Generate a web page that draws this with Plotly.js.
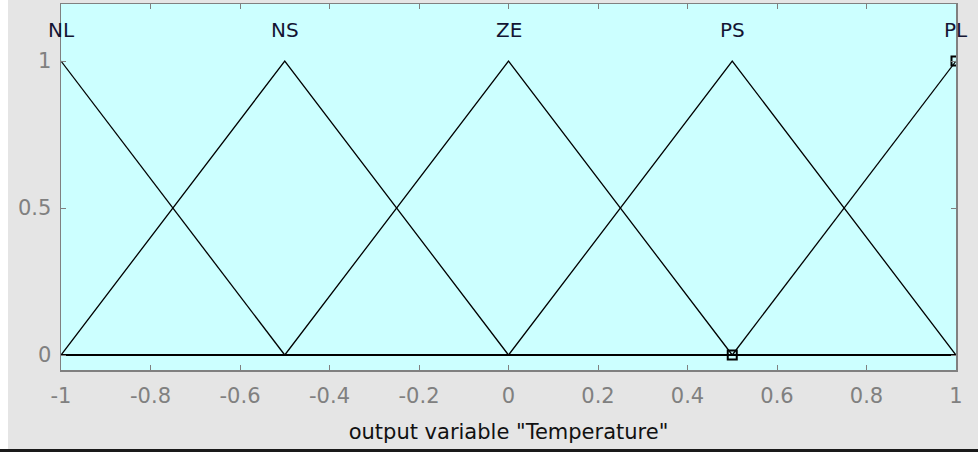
<!DOCTYPE html>
<html>
<head>
<meta charset="utf-8">
<script src="https://cdn.plot.ly/plotly-3.0.1.min.js"></script>
<style>
html,body{margin:0;padding:0;background:#ffffff;width:978px;height:452px;overflow:hidden;}
#chart{position:absolute;left:8px;top:0;width:970px;height:449px;}
#bar{position:absolute;left:0;top:449px;width:978px;height:3px;background:#1a1a1a;}
</style>
</head>
<body>
<div id="chart"></div>
<div id="bar"></div>
<script>
// Membership functions of output variable "Temperature"
const mfNames = ['NL', 'NS', 'ZE', 'PS', 'PL'];
const mfPeaks = [-1, -0.5, 0, 0.5, 1];
const mfX = [[-1, -0.5], [-1, -0.5, 0], [-0.5, 0, 0.5], [0, 0.5, 1], [0.5, 1]];
const mfY = [[1, 0], [0, 1, 0], [0, 1, 0], [0, 1, 0], [0, 1]];
const baseX = [-1, 1];
const baseY = [0, 0];
const selX = [0.5, 1];
const selY = [0, 1];
const xTickVals = [-1, -0.8, -0.6, -0.4, -0.2, 0, 0.2, 0.4, 0.6, 0.8, 1];
const xTickText = ['-1', '-0.8', '-0.6', '-0.4', '-0.2', '0', '0.2', '0.4', '0.6', '0.8', '1'];
const yTickVals = [0, 0.5, 1];
const yTickText = ['0', '0.5', '1'];
const xTitle = 'output variable "Temperature"';

const traces = [];
traces.push({x: baseX, y: baseY, mode: 'lines', line: {color: '#000000', width: 2.2}, hoverinfo: 'skip'});
for (let i = 0; i < mfNames.length; i++) {
  traces.push({x: mfX[i], y: mfY[i], mode: 'lines', name: mfNames[i], line: {color: '#000000', width: 1.3}});
}
traces.push({x: selX, y: selY, mode: 'markers', marker: {symbol: 'square-open', size: 9, color: '#000000', line: {width: 2, color: '#000000'}}});

const annotations = mfNames.map((n, i) => ({
  x: mfPeaks[i], y: 1.105, xref: 'x', yref: 'y', text: n, showarrow: false,
  font: {family: 'DejaVu Sans, sans-serif', size: 20, color: '#141433'}, xanchor: 'center', yanchor: 'middle'
}));

const layout = {
  width: 970, height: 449,
  margin: {l: 53, r: 22, t: 4, b: 79, pad: 0},
  paper_bgcolor: '#e5e5e5',
  plot_bgcolor: '#ccffff',
  showlegend: false,
  font: {family: 'DejaVu Sans, sans-serif', size: 21, color: '#808080'},
  xaxis: {
    range: [-1, 1], tickvals: xTickVals, ticktext: xTickText,
    ticks: 'inside', ticklen: 5, tickcolor: '#808080', tickwidth: 1,
    showline: true, linecolor: '#808080', linewidth: 1.5, mirror: 'ticks',
    showgrid: false, zeroline: false, ticklabelstandoff: 6,
    tickfont: {family: 'DejaVu Sans, sans-serif', size: 21, color: '#808080'},
    title: {text: xTitle, standoff: 17, font: {family: 'DejaVu Sans, sans-serif', size: 21, color: '#111111'}}
  },
  yaxis: {
    range: [-0.051, 1.194], tickvals: yTickVals, ticktext: yTickText,
    ticks: 'inside', ticklen: 5, tickcolor: '#808080', tickwidth: 1,
    showline: true, linecolor: '#808080', linewidth: 1.5, mirror: 'ticks',
    showgrid: false, zeroline: false, ticklabelstandoff: 4,
    tickfont: {family: 'DejaVu Sans, sans-serif', size: 21, color: '#808080'}
  },
  annotations: annotations
};

Plotly.newPlot('chart', traces, layout, {displayModeBar: false, staticPlot: true});
</script>
</body>
</html>
